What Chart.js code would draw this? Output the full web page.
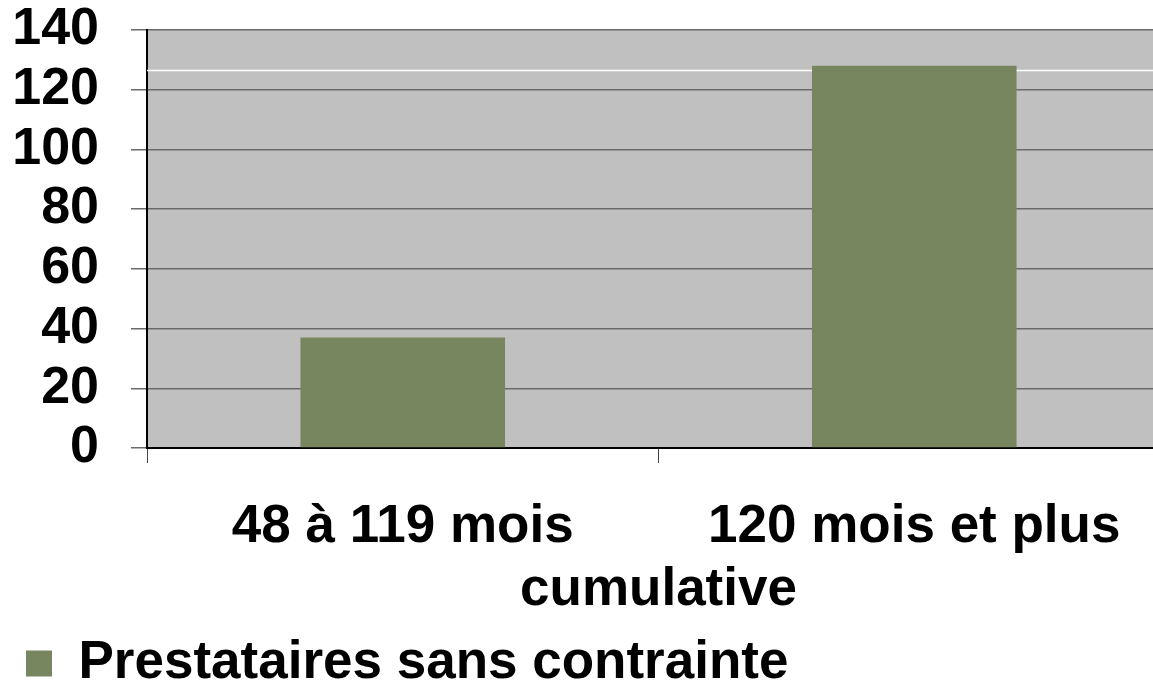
<!DOCTYPE html>
<html>
<head>
<meta charset="utf-8">
<script src="https://cdn.jsdelivr.net/npm/chart.js@4/dist/chart.umd.min.js"></script>
<style>
    html, body { margin: 0; padding: 0; background: #fff; overflow: hidden; }
    #wrap { width: 1170px; height: 683px; }
</style>
</head>
<body>
<div id="wrap"><canvas id="chart"></canvas></div>
<script>
// data
const categories = ['48 à 119 mois', '120 mois et plus'];
const seriesName = 'Prestataires sans contrainte';
const seriesValues = [37, 128];
const axisTitle = 'cumulative';
const yMin = 0;
const yMax = 140;
const yStep = 20;
const whiteLineValue = 126.5;

const font = "'Liberation Sans', Arial, sans-serif";

// gray plot background + the thin white line across it
const plotBack = {
    id: 'plotBack',
    beforeDraw(chart) {
        const { ctx, chartArea } = chart;
        ctx.save();
        ctx.fillStyle = '#c0c0c0';
        ctx.fillRect(chartArea.left, chartArea.top, chartArea.right - chartArea.left, chartArea.bottom - chartArea.top);
        ctx.restore();
    },
    beforeDatasetsDraw(chart) {
        const { ctx, chartArea, scales } = chart;
        const y = Math.round(scales.y.getPixelForValue(whiteLineValue)) + 0.5;
        ctx.save();
        ctx.strokeStyle = '#ffffff';
        ctx.lineWidth = 1.5;
        ctx.beginPath();
        ctx.moveTo(chartArea.left, y);
        ctx.lineTo(chartArea.right, y);
        ctx.stroke();
        ctx.restore();
    }
};

new Chart(document.getElementById('chart'), {
    type: 'bar',
    data: {
        labels: categories,
        datasets: [{
            label: seriesName,
            data: seriesValues,
            backgroundColor: '#77865f',
            borderWidth: 0,
            categoryPercentage: 1,
            barPercentage: 0.4
        }]
    },
    options: {
        responsive: true,
        maintainAspectRatio: false,
        animation: false,
        layout: { padding: { left: 12, top: 0, right: 0, bottom: -17 } },
        plugins: {
            tooltip: { enabled: false },
            legend: {
                position: 'bottom',
                align: 'start',
                labels: {
                    color: '#000',
                    boxWidth: 26,
                    boxHeight: 26,
                    padding: 14,
                    font: { family: font, size: 53, weight: 'bold', lineHeight: 1 }
                }
            }
        },
        scales: {
            x: {
                afterFit(scale) {
                    scale.height = 175;
                },
                grid: { drawOnChartArea: false, tickLength: 15, color: '#444', lineWidth: 1 },
                border: { color: '#000', width: 2 },
                ticks: {
                    autoSkip: false,
                    maxRotation: 0,
                    color: '#000',
                    padding: 38,
                    font: { family: font, size: 53, weight: 'bold', lineHeight: 1 }
                },
                title: {
                    display: true,
                    text: axisTitle,
                    color: '#000',
                    padding: { top: 10, bottom: 6 },
                    font: { family: font, size: 53, weight: 'bold', lineHeight: 1 }
                }
            },
            y: {
                min: yMin,
                max: yMax,
                afterFit(scale) {
                    scale.width = 135;
                    scale.paddingTop = 30;
                },
                grid: { color: '#6a6a6a', lineWidth: 1.5, tickLength: 16 },
                border: { color: '#000', width: 2 },
                ticks: {
                    autoSkip: false,
                    stepSize: yStep,
                    color: '#000',
                    padding: 32,
                    font: { family: font, size: 52, weight: 'bold', lineHeight: 1 }
                }
            }
        }
    },
    plugins: [plotBack]
});
</script>
</body>
</html>
